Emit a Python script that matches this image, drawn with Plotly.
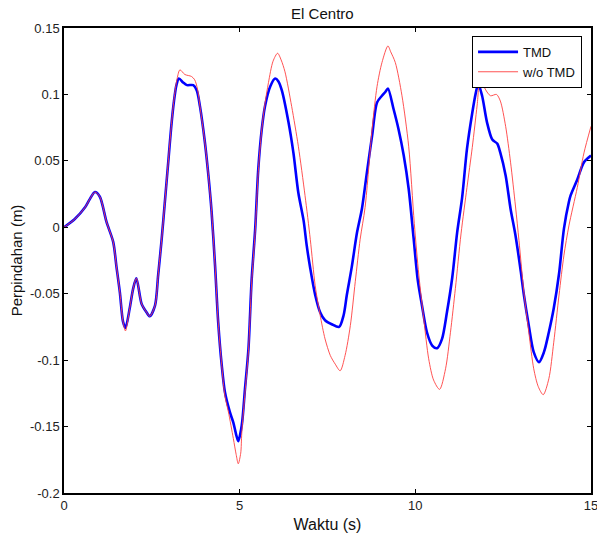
import plotly.graph_objects as go

# Time (s) and displacement (m)
t_tmd = [0, 0.3, 0.6, 0.73, 0.88, 1.02, 1.21, 1.40, 1.49, 1.59, 1.68, 1.75, 1.87, 1.97, 2.06,
         2.21, 2.35, 2.44, 2.59, 2.68, 2.78, 2.88, 2.97, 3.05, 3.13, 3.20, 3.27, 3.39, 3.50,
         3.68, 3.78, 3.87, 4.01, 4.11, 4.20, 4.30, 4.39, 4.49, 4.58, 4.72, 4.82, 4.90, 4.96,
         5.06, 5.15, 5.25, 5.34, 5.44, 5.53, 5.63, 5.72, 5.87, 6.01, 6.10, 6.20, 6.39, 6.53,
         6.67, 6.82, 6.91, 7.01, 7.15, 7.29, 7.43, 7.62, 7.83, 7.96, 8.05, 8.19, 8.34, 8.48,
         8.62, 8.77, 8.91, 9.05, 9.15, 9.22, 9.38, 9.52, 9.67, 9.81, 9.95, 10.07, 10.19,
         10.33, 10.48, 10.62, 10.76, 10.90, 11.05, 11.19, 11.33, 11.47, 11.62, 11.72, 11.79,
         11.90, 12.04, 12.19, 12.33, 12.42, 12.57, 12.71, 12.85, 13.0, 13.09, 13.23, 13.37,
         13.52, 13.66, 13.80, 13.94, 14.09, 14.23, 14.37, 14.42, 14.61, 14.80, 15.0]
y_tmd = [0, 0.006, 0.015, 0.021, 0.0265, 0.023, 0.004, -0.011, -0.029, -0.049, -0.071, -0.0757,
         -0.061, -0.046, -0.0384, -0.0577, -0.064, -0.067, -0.059, -0.036, -0.009, 0.022, 0.050,
         0.075, 0.095, 0.107, 0.112, 0.109, 0.107, 0.107, 0.103, 0.091, 0.064, 0.039, 0.012,
         -0.029, -0.072, -0.104, -0.124, -0.139, -0.147, -0.156, -0.161, -0.149, -0.122,
         -0.0915, -0.040, -0.002, 0.044, 0.074, 0.091, 0.106, 0.112, 0.110, 0.103, 0.079,
         0.056, 0.026, 0.005, -0.014, -0.031, -0.051, -0.064, -0.070, -0.073, -0.075, -0.066,
         -0.051, -0.030, -0.004, 0.014, 0.041, 0.069, 0.094, 0.099, 0.102, 0.1045, 0.089,
         0.074, 0.054, 0.029, -0.008, -0.040, -0.059, -0.079, -0.089, -0.091, -0.084, -0.064,
         -0.038, -0.004, 0.022, 0.059, 0.086, 0.101, 0.108, 0.099, 0.079, 0.066, 0.063, 0.056,
         0.039, 0.014, -0.006, -0.033, -0.051, -0.074, -0.094, -0.1015, -0.094, -0.079, -0.061,
         -0.035, -0.001, 0.019, 0.024, 0.036, 0.049, 0.054]

t_wo = [0, 0.3, 0.6, 0.73, 0.88, 1.02, 1.21, 1.40, 1.49, 1.59, 1.68, 1.75, 1.87, 1.97, 2.06,
        2.21, 2.35, 2.44, 2.59, 2.68, 2.78, 2.88, 2.97, 3.05, 3.13, 3.22, 3.30, 3.44, 3.63,
        3.72, 3.80, 3.87, 4.01, 4.11, 4.20, 4.30, 4.39, 4.49, 4.58, 4.68, 4.82, 4.90, 4.96,
        5.03, 5.06, 5.15, 5.25, 5.34, 5.44, 5.53, 5.63, 5.72, 5.82, 5.95, 6.08, 6.18, 6.29,
        6.48, 6.67, 6.86, 7.01, 7.15, 7.29, 7.43, 7.58, 7.72, 7.86, 8.00, 8.15, 8.29, 8.43,
        8.57, 8.77, 8.91, 9.05, 9.22, 9.30, 9.43, 9.62, 9.81, 9.97, 10.10, 10.24, 10.38,
        10.52, 10.69, 10.86, 11.00, 11.14, 11.30, 11.47, 11.62, 11.76, 11.85, 11.99, 12.14,
        12.31, 12.42, 12.57, 12.71, 12.85, 12.95, 13.09, 13.23, 13.37, 13.50, 13.64, 13.80,
        13.94, 14.09, 14.23, 14.37, 14.61, 14.80, 15.0]
y_wo = [0, 0.006, 0.015, 0.021, 0.0265, 0.023, 0.004, -0.011, -0.029, -0.049, -0.071, -0.078,
        -0.061, -0.046, -0.0384, -0.0577, -0.064, -0.067, -0.059, -0.036, -0.009, 0.022, 0.050,
        0.075, 0.096, 0.112, 0.1185, 0.115, 0.1135, 0.111, 0.104, 0.091, 0.064, 0.039, 0.012,
        -0.029, -0.072, -0.104, -0.127, -0.139, -0.159, -0.171, -0.178, -0.170, -0.155, -0.125,
        -0.093, -0.042, -0.004, 0.042, 0.074, 0.093, 0.109, 0.125, 0.131, 0.126, 0.117, 0.091,
        0.061, 0.024, -0.009, -0.044, -0.066, -0.084, -0.0965, -0.103, -0.108, -0.0965, -0.074,
        -0.041, -0.009, 0.015, 0.074, 0.106, 0.124, 0.1365, 0.132, 0.124, 0.099, 0.061, 0.003,
        -0.036, -0.069, -0.099, -0.115, -0.122, -0.1065, -0.079, -0.046, -0.005, 0.030, 0.060,
        0.092, 0.113, 0.104, 0.099, 0.100, 0.095, 0.076, 0.049, 0.016, -0.010, -0.049, -0.079,
        -0.1065, -0.120, -0.126, -0.114, -0.0865, -0.051, -0.021, 0.001, 0.030, 0.056, 0.076]

x_ticks = [0, 5, 10, 15]
y_ticks = [-0.2, -0.15, -0.1, -0.05, 0, 0.05, 0.1, 0.15]
y_ticktext = ["-0.2", "-0.15", "-0.1", "-0.05", "0", "0.05", "0.1", "0.15"]

FONT = "Liberation Sans, Arial, sans-serif"

fig = go.Figure()
fig.add_trace(go.Scatter(x=t_tmd, y=y_tmd, mode="lines", name="TMD",
                         line=dict(color="#0000FF", width=2.6, shape="spline", smoothing=0.8)))
fig.add_trace(go.Scatter(x=t_wo, y=y_wo, mode="lines", name="w/o TMD",
                         line=dict(color="#FF4040", width=0.9, shape="spline", smoothing=0.8)))

axis_common = dict(showline=True, linecolor="black", linewidth=1.5, mirror="ticks",
                   ticks="inside", ticklen=4, tickcolor="black", showgrid=False,
                   zeroline=False, automargin=False, ticklabeloverflow="allow",
                   tickfont=dict(family=FONT, size=13, color="#222"))

fig.update_xaxes(range=[0, 15], tickvals=x_ticks,
                 title=dict(text="Waktu (s)", font=dict(family=FONT, size=16, color="#111"), standoff=6),
                 **axis_common)
fig.update_yaxes(range=[-0.2, 0.15], tickvals=y_ticks, ticktext=y_ticktext,
                 title=dict(text="Perpindahan (m)", font=dict(family=FONT, size=15, color="#111"), standoff=4),
                 **axis_common)

fig.update_layout(
    width=597, height=537,
    margin=dict(l=64, r=6, t=28, b=44),
    paper_bgcolor="white", plot_bgcolor="white",
    title=dict(text="El Centro", x=0.54, xanchor="center", y=0.975, yanchor="middle",
               font=dict(family=FONT, size=15, color="#111")),
    legend=dict(x=0.983, y=0.983, xanchor="right", yanchor="top", bgcolor="white",
                bordercolor="black", borderwidth=1, itemwidth=40,
                font=dict(family=FONT, size=13, color="#111"), tracegroupgap=0),
    showlegend=True,
)

fig.write_html("out.html")
